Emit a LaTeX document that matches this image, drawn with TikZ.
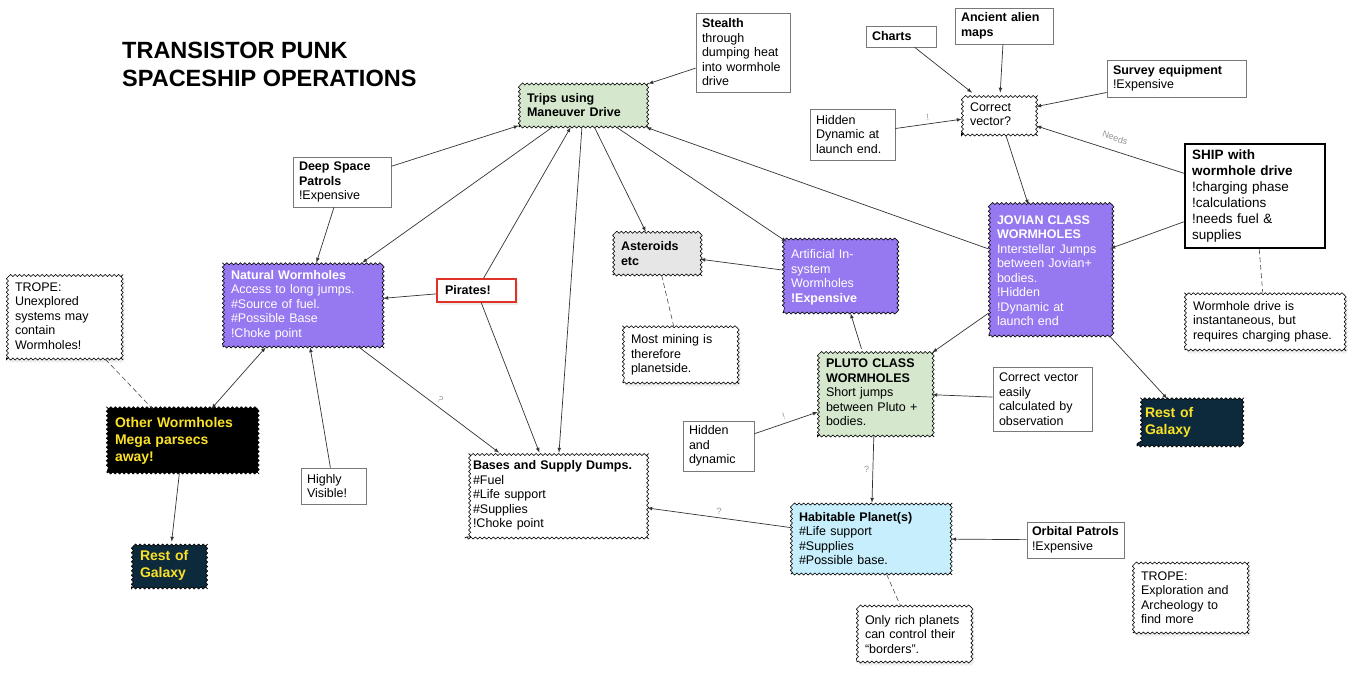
\documentclass[tikz,border=0pt]{standalone}
\usepackage{fontspec}
\setmainfont{Liberation Sans}
\usepackage{xcolor}
\usepackage{tikz}
\usetikzlibrary{arrows}
\usetikzlibrary{shapes}
\usetikzlibrary{shadows}
\usetikzlibrary{decorations.pathmorphing}

\definecolor{leafgreen}{RGB}{213,232,206}
\definecolor{wormpurple}{RGB}{150,120,240}
\definecolor{rockgray}{RGB}{230,230,230}
\definecolor{skyblue}{RGB}{198,238,252}
\definecolor{deepnavy}{RGB}{12,42,60}
\definecolor{galaxyyellow}{RGB}{250,225,40}
\definecolor{piratered}{RGB}{225,50,40}
\definecolor{boxgray}{RGB}{120,120,120}
\definecolor{notegray}{RGB}{150,150,150}

\begin{document}
\begin{tikzpicture}[x=1pt, y=-1pt,
  every node/.style={font=\fontsize{12.5}{14.5}\selectfont, align=left},
  plainbox/.style={rectangle, draw=boxgray, line width=0.8pt, inner xsep=6pt},
  wavy/.style={rectangle, draw=black, line width=0.6pt, inner xsep=8pt, decorate, decoration={snake, segment length=4.5pt, amplitude=1pt}},
  note/.style={wavy, fill=white, drop shadow={opacity=0.15, shadow xshift=2pt, shadow yshift=-3pt}},
  galaxy/.style={wavy, fill=deepnavy, text=galaxyyellow, font=\fontsize{14}{17}\selectfont\bfseries},
  shipbox/.style={rectangle, draw=black, line width=2.5pt, inner xsep=7pt, font=\fontsize{13.5}{16}\selectfont},
  pirate/.style={rectangle, draw=piratered, line width=1.5pt, fill=white, inner xsep=8pt, drop shadow={opacity=0.15, shadow xshift=2pt, shadow yshift=-3pt}},
  link/.style={-latex, draw=black!80, line width=0.7pt},
  notelink/.style={draw=black!70, line width=0.6pt, dash pattern=on 5pt off 3pt},
  tag/.style={font=\fontsize{9}{9}\selectfont, text=notegray}
]
\useasboundingbox (0, 0) rectangle (1352, 673);
\fill [white] (0, 0) rectangle (1352, 673);

% title
\node [anchor=north west, inner sep=0pt, font=\fontsize{23.5}{28}\selectfont\bfseries] (title) at (122, 42) {TRANSISTOR PUNK\\SPACESHIP OPERATIONS};

% top row
\node [wavy, fill=leafgreen, text width=113pt, minimum height=44pt] (trips) at (583.5, 105) {{\bfseries Trips using\\Maneuver Drive}};
\node [plainbox, text width=82pt, minimum height=79pt] (stealth) at (743, 52.5) {\textbf{Stealth}\\through\\dumping heat\\into wormhole\\drive};
\node [plainbox, text width=58pt, minimum height=21pt] (charts) at (901, 36.5) {\textbf{Charts}};
\node [plainbox, text width=86pt, minimum height=36pt] (alienmaps) at (1004, 26) {{\bfseries Ancient alien\\maps}};
\node [plainbox, text width=127pt, minimum height=37pt] (survey) at (1176.5, 78.5) {\textbf{Survey equipment}\\!Expensive};
\node [wavy, fill=white, text width=58pt, minimum height=42pt] (vector) at (999, 114) {Correct\\vector?};
\node [plainbox, text width=73pt, minimum height=51pt] (hiddenlaunch) at (852.5, 134.5) {Hidden\\Dynamic at\\launch end.};
\node [shipbox, text width=126pt, minimum height=104pt] (ship) at (1255, 196) {{\bfseries SHIP with\\wormhole drive}\\!charging phase\\!calculations\\!needs fuel \&\\supplies};
\node [note, text width=144pt, minimum height=57pt] (drivenote) at (1265, 321.5) {Wormhole drive is\\instantaneous, but\\requires charging phase.};
\node [plainbox, text width=86pt, minimum height=50pt] (deepspace) at (342, 182) {{\bfseries Deep Space\\Patrols}\\!Expensive};

% middle
\node [wavy, fill=wormpurple, text=white, text width=144pt, minimum height=84pt] (natural) at (303, 305) {\textbf{Natural Wormholes}\\Access to long jumps.\\\#Source of fuel.\\\#Possible Base\\!Choke point};
\node [pirate, text width=63pt, minimum height=23pt] (pirates) at (476.5, 290.5) {\textbf{Pirates!}};
\node [wavy, fill=rockgray, text width=71pt, minimum height=43pt] (asteroids) at (656.5, 253.5) {{\bfseries Asteroids\\etc}};
\node [note, text width=99pt, minimum height=56pt] (miningnote) at (680.5, 355) {Most mining is\\therefore\\planetside.};
\node [wavy, fill=wormpurple, text=white, text width=97pt, minimum height=71pt] (artificial) at (839.5, 277.5) {Artificial In-\\system\\Wormholes\\\textbf{!Expensive}};
\node [wavy, fill=wormpurple, text=white, text width=105pt, minimum height=131pt] (jovian) at (1049.5, 270.5) {{\bfseries JOVIAN CLASS\\WORMHOLES}\\Interstellar Jumps\\between Jovian+\\bodies.\\!Hidden\\!Dynamic at\\launch end};
\node [wavy, fill=leafgreen, text width=98pt, minimum height=87pt] (pluto) at (875, 392.5) {{\bfseries PLUTO CLASS\\WORMHOLES}\\Short jumps\\between Pluto +\\bodies.};
\node [plainbox, text width=87pt, minimum height=64pt] (easyvector) at (1042.5, 399) {Correct vector\\easily\\calculated by\\observation};
\node [galaxy, text width=88pt, minimum height=47pt] (galaxyright) at (1189, 422.5) {Rest of\\Galaxy};
\node [note, text width=99pt, minimum height=86pt] (tropeleft) at (64.5, 316) {TROPE:\\Unexplored\\systems may\\contain\\Wormholes!};

% bottom
\node [wavy, fill=black, text=galaxyyellow, text width=136pt, minimum height=64pt, font=\fontsize{14}{17}\selectfont\bfseries] (others) at (183, 441) {Other Wormholes\\Mega parsecs\\away!};
\node [galaxy, text width=58pt, minimum height=46pt] (galaxyleft) at (169, 565) {Rest of\\Galaxy};
\node [plainbox, text width=53pt, minimum height=36pt] (visible) at (333.5, 486) {Highly\\Visible!};
\node [wavy, fill=white, text width=166pt, minimum height=85pt] (bases) at (556, 495.5) {\textbf{Bases and Supply Dumps.}\\\#Fuel\\\#Life support\\\#Supplies\\!Choke point};
\node [plainbox, text width=59pt, minimum height=50pt] (hiddendynamic) at (718.5, 446) {Hidden\\and\\dynamic};
\node [wavy, fill=skyblue, text width=144pt, minimum height=71pt] (habitable) at (871, 538.5) {\textbf{Habitable Planet(s)}\\\#Life support\\\#Supplies\\\#Possible base.};
\node [plainbox, inner xsep=5pt, text width=87pt, minimum height=36pt] (orbital) at (1075.5, 540) {\textbf{Orbital Patrols}\\!Expensive};
\node [note, text width=96pt, minimum height=55pt] (richnote) at (913, 634.5) {Only rich planets\\can control their\\“borders”.};
\node [note, text width=99pt, minimum height=71pt] (tropenote) at (1190.5, 597.5) {TROPE:\\Exploration and\\Archeology to\\find more};

% connectors
\draw [link] (stealth) to (trips);
\draw [link] (deepspace) to (trips);
\draw [link] (trips) to (natural);
\draw [link] (deepspace) to (natural);
\draw [link] (pirates) to (trips);
\draw [link] (trips) to (bases);
\draw [link] (trips) to (asteroids);
\draw [link] (trips) to (artificial);
\draw [link] (jovian) to (trips);
\draw [link] (pirates) to (natural);
\draw [link] (pirates) to (bases);
\draw [link] (natural) to node [tag, pos=0.55, above, sloped] {?} (bases);
\draw [link, latex-latex] (natural) to (others);
\draw [link] (visible) to (natural);
\draw [notelink] (tropeleft) to (others);
\draw [link] (others) to (galaxyleft);
\draw [link] (artificial) to (asteroids);
\draw [notelink] (asteroids) to (miningnote);
\draw [link] (charts) to (vector);
\draw [link] (alienmaps) to (vector);
\draw [link] (survey) to (vector);
\draw [link] (hiddenlaunch) to node [tag, above, sloped] {!} (vector);
\draw [link] (ship) to node [tag, pos=0.48, above=6pt, rotate=-18] {Needs} (vector);
\draw [link] (vector) to (jovian);
\draw [link] (ship) to (jovian);
\draw [notelink] (ship) to (drivenote);
\draw [link] (jovian) to (pluto);
\draw [link] (pluto) to (artificial);
\draw [link] (easyvector) to (pluto);
\draw [link] (jovian) to (galaxyright);
\draw [link] (hiddendynamic) to node [tag, above, sloped] {!} (pluto);
\draw [link] (pluto) to node [tag, left] {?} (habitable);
\draw [link] (habitable) to node [tag, above] {?} (bases);
\draw [link] (orbital) to (habitable);
\draw [notelink] (habitable) to (richnote);
\end{tikzpicture}
\end{document}
